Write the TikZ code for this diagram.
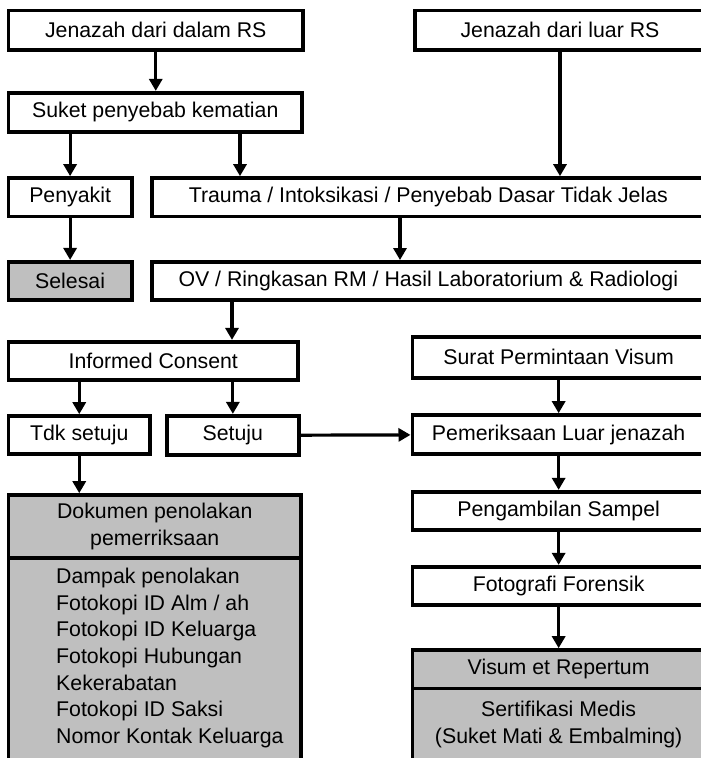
\documentclass[tikz,border=0pt]{standalone}
\usepackage{fontspec}
\setmainfont{Liberation Sans}
\usetikzlibrary{arrows.meta}

\tikzset{
    kotak/.style={draw=black, line width=3.6pt, inner sep=0pt, font=\fontsize{21.3}{26.7}\selectfont},
    abu/.style={kotak, fill=black!25},
    panah/.style={line width=3.2pt, -{Triangle[length=12pt,width=13pt]}}
}

\begin{document}
\begin{tikzpicture}[x=1pt,y=-1pt]
\useasboundingbox (0,0) rectangle (701,758);
\clip (0,0) rectangle (701,758);

% Left column: from the hospital
\node[kotak, minimum width=294.5, minimum height=39.5] (dalam) at (155.75,30.25) {Jenazah dari dalam RS};
\node[kotak, minimum width=293.5, minimum height=39] (suket) at (155.25,112.2) {Suket penyebab kematian};
\node[kotak, minimum width=123.2, minimum height=38.7] (penyakit) at (70.1,197.3) {Penyakit};
\node[abu, minimum width=123.2, minimum height=38.3] (selesai) at (70.1,280.9) {Selesai};

% Right column top: from outside the hospital
\node[kotak, minimum width=290, minimum height=39.5] (luar) at (560,30.25) {Jenazah dari luar RS};
\node[kotak, minimum width=553.3, minimum height=38.7] (trauma) at (428.35,197.3) {Trauma / Intoksikasi / Penyebab Dasar Tidak Jelas};
\node[kotak, minimum width=553.3, minimum height=38.3] (ov) at (428.35,281) {OV / Ringkasan RM / Hasil Laboratorium \& Radiologi};

% Consent
\node[kotak, minimum width=289.5, minimum height=38.3] (informed) at (153.25,360.85) {Informed Consent};
\node[kotak, minimum width=141.5, minimum height=38] (tdk) at (79.25,435) {Tdk setuju};
\node[kotak, minimum width=132.3, minimum height=39.3] (setuju) at (232.85,435.35) {Setuju};
\node[abu, minimum width=292.5, minimum height=63, align=center] (dokumen) at (154.75,526.5) {Dokumen penolakan\\pemerriksaan};
\node[abu, minimum width=292.5, minimum height=204] (rincian) at (154.75,660) {};
\node[anchor=west, align=left, inner sep=0pt, font=\fontsize{21.3}{26.7}\selectfont] (daftar) at (56,658)
    {Dampak penolakan\\Fotokopi ID Alm / ah\\Fotokopi ID Keluarga\\Fotokopi Hubungan\\Kekerabatan\\Fotokopi ID Saksi\\Nomor Kontak Keluarga};

% Visum chain
\node[kotak, minimum width=292.7, minimum height=40.7] (surat) at (558.65,357.35) {Surat Permintaan Visum};
\node[kotak, minimum width=292.7, minimum height=39] (periksa) at (558.65,434.5) {Pemeriksaan Luar jenazah};
\node[kotak, minimum width=292.7, minimum height=38.3] (sampel) at (558.65,510.85) {Pengambilan Sampel};
\node[kotak, minimum width=292.7, minimum height=38.3] (foto) at (558.65,585.85) {Fotografi Forensik};
\node[abu, minimum width=292.7, minimum height=38.3] (visum) at (558.65,669.15) {Visum et Repertum};
\node[abu, minimum width=292.7, minimum height=71.4, align=center] (sertifikasi) at (558.65,724.2) {Sertifikasi Medis\\(Suket Mati \& Embalming)};

% Arrows
\draw[panah] (dalam) -- (suket.north -| dalam);
\draw[panah] (luar) -- (trauma.north -| luar);
\draw[panah] (suket.south -| penyakit) -- (penyakit);
\draw[panah] (240,0 |- suket.south) -- (240,0 |- trauma.north);
\draw[panah] (penyakit) -- (selesai);
\draw[panah] (400,0 |- trauma.south) -- (400,0 |- ov.north);
\draw[panah] (232,0 |- ov.south) -- (232,0 |- informed.north);
\draw[panah] (informed.south -| tdk) -- (tdk);
\draw[panah] (informed.south -| setuju) -- (setuju);
\draw[panah] (tdk) -- (dokumen.north -| tdk);
\draw[panah] (setuju) -- (periksa);
\foreach \a/\b in {surat/periksa, periksa/sampel, sampel/foto, foto/visum} {
    \draw[panah] (\a) -- (\b);
}
\end{tikzpicture}
\end{document}
